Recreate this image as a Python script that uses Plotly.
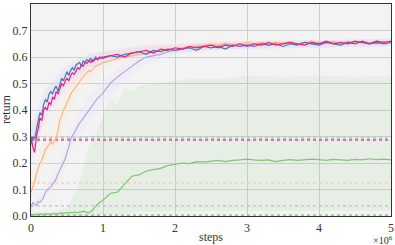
import numpy as np
import plotly.graph_objects as go

# x grid in units of 1e6 steps
x_early = [round(i * 0.025, 3) for i in range(41)]
x_late = [round(1.1 + i * 0.1, 2) for i in range(40)]
steps = x_early + x_late

blue = [0.27, 0.30, 0.29, 0.33, 0.36, 0.39, 0.38, 0.42, 0.44, 0.43, 0.46, 0.47, 0.46, 0.48, 0.49, 0.47,
        0.50, 0.52, 0.51, 0.53, 0.545, 0.53, 0.55, 0.56, 0.55, 0.57, 0.575, 0.58, 0.565, 0.585, 0.58,
        0.59, 0.585, 0.595, 0.58, 0.59, 0.60, 0.59, 0.595, 0.60, 0.595,
        0.605, 0.60, 0.61, 0.615, 0.62, 0.61, 0.625, 0.62, 0.63, 0.625,
        0.63, 0.635, 0.625, 0.64, 0.635, 0.64, 0.63, 0.645, 0.64, 0.645,
        0.64, 0.65, 0.645, 0.65, 0.64, 0.65, 0.645, 0.655, 0.65, 0.645,
        0.655, 0.65, 0.645, 0.655, 0.65, 0.66, 0.65, 0.655, 0.65, 0.655]

magenta = [0.30, 0.26, 0.24, 0.30, 0.33, 0.37, 0.36, 0.40, 0.41, 0.40, 0.43, 0.42, 0.45, 0.44, 0.47, 0.46,
           0.48, 0.50, 0.49, 0.51, 0.52, 0.51, 0.53, 0.54, 0.535, 0.55, 0.56, 0.555, 0.57, 0.565, 0.58,
           0.575, 0.585, 0.58, 0.59, 0.585, 0.595, 0.59, 0.60, 0.595, 0.60,
           0.605, 0.61, 0.60, 0.615, 0.62, 0.625, 0.615, 0.63, 0.625, 0.635,
           0.63, 0.64, 0.635, 0.64, 0.645, 0.635, 0.645, 0.64, 0.65, 0.64,
           0.65, 0.645, 0.655, 0.645, 0.65, 0.655, 0.65, 0.645, 0.655, 0.65,
           0.66, 0.65, 0.655, 0.65, 0.66, 0.655, 0.65, 0.66, 0.655, 0.66]

orange = [0.09, 0.11, 0.13, 0.16, 0.18, 0.20, 0.21, 0.23, 0.25, 0.26, 0.27, 0.28, 0.27, 0.285, 0.29, 0.33,
          0.36, 0.38, 0.40, 0.41, 0.43, 0.44, 0.46, 0.47, 0.48, 0.49, 0.50, 0.51, 0.52, 0.525, 0.535,
          0.54, 0.55, 0.545, 0.555, 0.56, 0.565, 0.57, 0.57, 0.575, 0.58,
          0.585, 0.595, 0.60, 0.605, 0.61, 0.615, 0.62, 0.625, 0.63, 0.632,
          0.635, 0.638, 0.642, 0.645, 0.648, 0.645, 0.652, 0.648, 0.65, 0.655,
          0.65, 0.655, 0.648, 0.655, 0.652, 0.658, 0.65, 0.655, 0.66, 0.652,
          0.658, 0.655, 0.65, 0.66, 0.655, 0.658, 0.652, 0.66, 0.655, 0.658]

purple = [0.035, 0.05, 0.045, 0.04, 0.055, 0.05, 0.06, 0.07, 0.09, 0.10, 0.105, 0.11, 0.12, 0.13, 0.14, 0.16,
          0.175, 0.185, 0.20, 0.215, 0.24, 0.26, 0.29, 0.30, 0.31, 0.325, 0.34, 0.35, 0.36, 0.37, 0.38,
          0.39, 0.40, 0.41, 0.42, 0.43, 0.44, 0.445, 0.45, 0.46, 0.465,
          0.50, 0.525, 0.545, 0.565, 0.585, 0.60, 0.605, 0.61, 0.62, 0.625,
          0.63, 0.635, 0.64, 0.64, 0.645, 0.64, 0.648, 0.645, 0.65, 0.645,
          0.65, 0.652, 0.645, 0.655, 0.65, 0.652, 0.648, 0.655, 0.65, 0.655,
          0.652, 0.658, 0.65, 0.655, 0.652, 0.658, 0.655, 0.65, 0.658, 0.655]

green = [0.005, 0.004, 0.006, 0.005, 0.008, 0.006, 0.007, 0.005, 0.009, 0.007, 0.008, 0.006, 0.01, 0.008,
         0.009, 0.007, 0.01, 0.012, 0.01, 0.011, 0.013, 0.012, 0.014, 0.013, 0.015, 0.014, 0.012, 0.016,
         0.015, 0.018, 0.015, 0.012, 0.012, 0.016, 0.02, 0.03, 0.04, 0.045, 0.05, 0.055, 0.06,
         0.085, 0.09, 0.12, 0.15, 0.155, 0.17, 0.175, 0.18, 0.19, 0.195,
         0.20, 0.198, 0.205, 0.203, 0.207, 0.21, 0.205, 0.21, 0.212, 0.215,
         0.212, 0.21, 0.212, 0.205, 0.21, 0.213, 0.21, 0.212, 0.215, 0.213,
         0.21, 0.214, 0.212, 0.21, 0.214, 0.212, 0.216, 0.213, 0.215, 0.212]

band_x = [0, 0.1, 0.2, 0.3, 0.4, 0.5, 0.6, 0.8, 1.0, 1.3, 1.6, 2.0, 2.5, 3, 4, 5]
blue_lo = [0.22, 0.31, 0.39, 0.42, 0.46, 0.50, 0.52, 0.56, 0.575, 0.595, 0.605, 0.615, 0.625, 0.632, 0.635, 0.64]
blue_hi = [0.32, 0.41, 0.48, 0.51, 0.54, 0.57, 0.585, 0.61, 0.62, 0.63, 0.64, 0.645, 0.655, 0.66, 0.665, 0.668]
mag_lo = [0.20, 0.28, 0.36, 0.41, 0.44, 0.48, 0.50, 0.56, 0.58, 0.60, 0.61, 0.62, 0.628, 0.63, 0.635, 0.645]
mag_hi = [0.36, 0.38, 0.45, 0.49, 0.52, 0.55, 0.57, 0.61, 0.62, 0.635, 0.645, 0.65, 0.655, 0.66, 0.662, 0.67]
or_lo = [0.06, 0.13, 0.20, 0.23, 0.30, 0.37, 0.43, 0.51, 0.55, 0.59, 0.61, 0.625, 0.632, 0.638, 0.64, 0.642]
or_hi = [0.13, 0.23, 0.30, 0.33, 0.42, 0.49, 0.53, 0.59, 0.61, 0.63, 0.65, 0.655, 0.66, 0.665, 0.665, 0.668]
pu_lo = [0.025, 0.04, 0.07, 0.095, 0.14, 0.20, 0.27, 0.35, 0.42, 0.51, 0.575, 0.61, 0.632, 0.635, 0.638, 0.64]
pu_hi = [0.05, 0.075, 0.115, 0.15, 0.21, 0.28, 0.35, 0.45, 0.51, 0.58, 0.62, 0.64, 0.655, 0.66, 0.662, 0.665]

green_band_x = [0, 0.3, 0.5, 0.6, 0.7, 0.8, 0.9, 1.0, 1.1, 1.2, 1.3, 1.4, 1.5, 1.7, 2.0, 2.3, 2.6, 3.0, 3.5, 4.0, 4.5, 5.0]
green_lo = [0, 0, 0, 0, 0, 0, 0, 0.003, 0.005, 0.008, 0.01, 0.012, 0.015, 0.015, 0.018, 0.02, 0.02, 0.02, 0.02, 0.02, 0.02, 0.02]
green_hi = [0.012, 0.015, 0.03, 0.08, 0.15, 0.26, 0.31, 0.38, 0.45, 0.42, 0.48, 0.47, 0.49, 0.50, 0.51, 0.52, 0.515, 0.53, 0.525, 0.53, 0.525, 0.53]

baselines = {"blue": 0.293, "magenta": 0.287, "orange": 0.125, "purple": 0.038, "green": 0.003}

C_BLUE = "#4a74b8"
C_MAG = "#f01d86"
C_OR = "#ffb27c"
C_PU = "#b6a6d8"
C_GR = "#7cc872"

fig = go.Figure()


def band(xs, lo, hi, fill):
    fig.add_trace(go.Scatter(x=xs + xs[::-1], y=hi + lo[::-1], fill="toself", fillcolor=fill,
                             line=dict(width=0), mode="lines", hoverinfo="skip", showlegend=False))


band(green_band_x, green_lo, green_hi, "rgba(124,200,114,0.10)")
band(band_x, pu_lo, pu_hi, "rgba(235,228,250,0.35)")
band(band_x, or_lo, or_hi, "rgba(255,235,215,0.35)")
band(band_x, mag_lo, mag_hi, "rgba(250,210,230,0.3)")
band(band_x, blue_lo, blue_hi, "rgba(210,222,242,0.3)")

# dotted baselines
for val, col, w in [(baselines["green"], "#8ed486", 2.0), (baselines["purple"], "#c6b8e6", 1.2),
                    (baselines["orange"], "#ffcb98", 1.2), (baselines["blue"], "#c0cddb", 3.0),
                    (baselines["magenta"], "#ff3d9a", 1.6)]:
    fig.add_trace(go.Scatter(x=[0, 5], y=[val, val], mode="lines",
                             line=dict(color=col, width=w, dash="dot"), showlegend=False, hoverinfo="skip"))

for ys, col in [(green, C_GR), (purple, C_PU), (orange, C_OR), (blue, C_BLUE), (magenta, C_MAG)]:
    fig.add_trace(go.Scatter(x=steps, y=ys, mode="lines", line=dict(color=col, width=1.2),
                             showlegend=False))

FONT = "Liberation Serif"
fig.update_layout(
    width=395, height=245,
    margin=dict(l=31, r=4, t=4, b=29, autoexpand=False),
    paper_bgcolor="white", plot_bgcolor="#f3f3f3",
    font=dict(family=FONT, size=12, color="#333"),
    showlegend=False,
)
fig.update_xaxes(range=[0, 5], tickvals=[0, 1, 2, 3, 4, 5], ticktext=["0", "1", "2", "3", "4", "5"],
                 showgrid=True, gridcolor="#cfcfcf", gridwidth=1, zeroline=False, automargin=False,
                 showline=True, linecolor="#333", linewidth=1.2, mirror=True, ticks="",
                 tickfont=dict(family=FONT, size=12))
fig.update_yaxes(range=[0, 0.8002], tickvals=[0, 0.1, 0.2, 0.3, 0.4, 0.5, 0.6, 0.7, 0.8],
                 ticktext=["0.0", "0.1", "0.2", "0.3", "0.4", "0.5", "0.6", "0.7", "0.8"],
                 showgrid=True, gridcolor="#cfcfcf", gridwidth=1, zeroline=False, automargin=False,
                 showline=True, linecolor="#333", linewidth=1.2, mirror=True, ticks="",
                 tickfont=dict(family=FONT, size=12))
fig.add_annotation(text="steps", x=0.5, y=0, xref="paper", yref="paper", xanchor="center",
                   yanchor="top", yshift=-12, showarrow=False, font=dict(family=FONT, size=12, color="#333"))
fig.add_annotation(text="return", x=0, y=0.5, xref="paper", yref="paper", xanchor="center",
                   yanchor="middle", xshift=-25, textangle=-90, showarrow=False,
                   font=dict(family=FONT, size=12, color="#333"))
fig.add_annotation(text="×10<sup>6</sup>", x=1, y=0, xref="paper", yref="paper",
                   xanchor="right", yanchor="top", yshift=-16, xshift=4, showarrow=False,
                   font=dict(family=FONT, size=10, color="#333"))

fig.write_html("out.html", config={"displayModeBar": False},
               post_script="document.body.style.margin='0';")
